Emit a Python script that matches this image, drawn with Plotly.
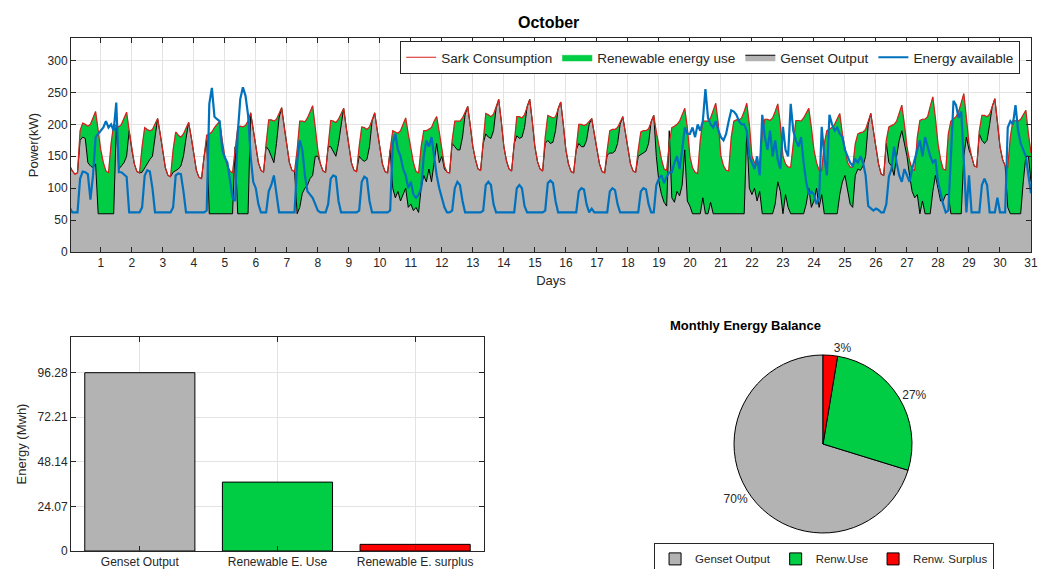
import numpy as np
import plotly.graph_objects as go

# 2-hourly samples over October, x in days
hours = np.arange(0, 31 * 24 + 1, 2)
days = hours / 24

# Sark consumption (kW), one row per day: 0h,2h,...,22h
consumption_kw = [
    135, 127, 122, 124, 190, 202, 200, 197, 200, 210, 220, 190,
    160, 140, 127, 124, 170, 200, 198, 196, 200, 210, 219, 190,
    160, 138, 126, 124, 165, 195, 192, 190, 192, 200, 209, 185,
    155, 132, 120, 118, 160, 188, 183, 180, 185, 195, 203, 180,
    150, 128, 117, 115, 150, 183, 185, 188, 195, 200, 205, 175,
    150, 135, 127, 124, 165, 195, 197, 196, 198, 205, 218, 190,
    165, 140, 128, 125, 170, 207, 207, 205, 208, 218, 226, 195,
    165, 140, 128, 126, 160, 205, 205, 204, 210, 220, 229, 195,
    160, 138, 127, 125, 170, 206, 205, 203, 208, 218, 225, 195,
    165, 140, 128, 126, 165, 196, 195, 192, 196, 208, 218, 190,
    160, 138, 126, 124, 160, 190, 188, 186, 190, 200, 210, 185,
    160, 140, 126, 124, 165, 190, 190, 192, 195, 205, 212, 188,
    160, 135, 125, 124, 175, 205, 205, 205, 210, 220, 228, 198,
    165, 145, 130, 128, 180, 217, 215, 212, 216, 228, 239, 205,
    165, 143, 130, 127, 175, 212, 212, 210, 215, 228, 239, 205,
    165, 142, 130, 127, 180, 214, 212, 210, 212, 225, 235, 200,
    160, 138, 126, 124, 165, 200, 200, 198, 200, 205, 209, 185,
    160, 138, 126, 124, 160, 190, 192, 192, 195, 203, 212, 188,
    160, 138, 127, 125, 160, 188, 190, 190, 193, 205, 214, 188,
    165, 145, 130, 128, 170, 195, 197, 200, 205, 215, 225, 195,
    150, 132, 125, 123, 175, 205, 205, 205, 210, 220, 233, 200,
    150, 135, 128, 127, 180, 205, 207, 207, 210, 220, 233, 200,
    150, 140, 137, 137, 185, 208, 208, 206, 210, 220, 232, 200,
    150, 138, 133, 133, 175, 206, 206, 205, 210, 218, 225, 195,
    160, 140, 128, 128, 170, 190, 192, 195, 200, 210, 217, 185,
    160, 140, 133, 133, 170, 185, 187, 188, 192, 205, 217, 190,
    160, 138, 122, 120, 175, 196, 198, 200, 205, 218, 230, 200,
    165, 143, 130, 128, 180, 206, 208, 208, 212, 228, 243, 210,
    170, 145, 130, 128, 185, 205, 208, 212, 220, 235, 248, 210,
    170, 150, 135, 133, 190, 214, 214, 212, 216, 228, 240, 205,
    165, 145, 135, 133, 180, 206, 206, 205, 208, 215, 222, 185,
    155,
]

# Genset output (kW)
genset_kw = [
    135, 127, 122, 124, 175, 180, 178, 140, 135, 132, 138, 60,
    60, 60, 60, 60, 60, 60, 195, 130, 135, 140, 150, 190,
    160, 138, 126, 124, 125, 132, 140, 145, 150, 180, 209, 185,
    155, 132, 120, 118, 125, 128, 130, 135, 150, 178, 203, 180,
    150, 128, 117, 115, 150, 175, 60, 60, 60, 60, 60, 60,
    60, 60, 60, 60, 165, 60, 60, 60, 60, 60, 218, 190,
    165, 140, 128, 125, 165, 160, 150, 140, 170, 210, 226, 195,
    165, 140, 128, 126, 60, 70, 92, 100, 105, 115, 120, 150,
    150, 138, 127, 125, 165, 165, 158, 150, 170, 200, 225, 195,
    165, 140, 128, 126, 150, 145, 142, 145, 165, 205, 218, 190,
    160, 138, 126, 124, 160, 100, 85, 95, 80, 90, 100, 70,
    75, 65, 70, 62, 100, 120, 110, 130, 110, 140, 170, 140,
    150, 130, 125, 124, 170, 165, 160, 160, 180, 215, 228, 198,
    165, 145, 130, 128, 170, 185, 180, 178, 190, 225, 239, 205,
    165, 143, 130, 127, 170, 182, 178, 180, 195, 228, 239, 205,
    165, 142, 130, 127, 170, 175, 170, 172, 190, 225, 235, 200,
    160, 138, 126, 124, 160, 170, 165, 165, 175, 200, 209, 185,
    160, 138, 126, 124, 152, 155, 155, 158, 170, 200, 212, 188,
    160, 138, 127, 125, 150, 153, 155, 158, 170, 205, 214, 150,
    110, 90, 78, 72, 190, 85, 78, 95, 88, 105, 160, 80,
    72, 60, 60, 60, 60, 85, 60, 60, 78, 60, 60, 60,
    60, 60, 60, 60, 60, 60, 60, 60, 60, 60, 190, 100,
    90, 100, 80, 95, 60, 60, 60, 60, 60, 75, 110, 95,
    60, 90, 70, 60, 60, 60, 60, 60, 60, 75, 100, 70,
    80, 100, 70, 90, 60, 60, 60, 60, 60, 60, 90, 110,
    120, 100, 75, 70, 120, 130, 128, 135, 150, 200, 217, 190,
    160, 138, 122, 120, 170, 140, 135, 120, 150, 175, 190, 170,
    150, 120, 95, 85, 90, 60, 80, 60, 60, 60, 95, 120,
    100, 80, 80, 90, 90, 60, 60, 60, 60, 60, 150, 180,
    160, 150, 135, 133, 185, 175, 170, 175, 200, 228, 240, 205,
    165, 145, 135, 70, 60, 60, 60, 60, 60, 110, 150, 150,
    110,
]

# Energy available (kW)
available_kw = [
    70, 62, 62, 62, 115, 126, 125, 122, 82, 120, 180, 185,
    190, 195, 205, 195, 200, 190, 234, 125, 125, 122, 118, 62,
    62, 62, 62, 62, 70, 120, 128, 126, 100, 62, 62, 62,
    62, 62, 62, 62, 70, 120, 123, 122, 95, 62, 62, 62,
    62, 62, 62, 62, 62, 65, 232, 257, 212, 208, 205, 160,
    148, 140, 110, 85, 80, 185, 240, 258, 245, 215, 150, 110,
    100, 75, 62, 62, 62, 95, 105, 120, 90, 62, 62, 62,
    62, 62, 62, 62, 140, 175, 160, 120, 95, 90, 85, 75,
    65, 62, 62, 62, 75, 115, 120, 118, 80, 62, 62, 62,
    62, 62, 62, 62, 65, 110, 118, 115, 80, 62, 62, 62,
    62, 62, 62, 62, 65, 170, 185, 160, 150, 130, 120, 100,
    110, 90, 85, 90, 100, 150, 175, 165, 180, 150, 120, 100,
    85, 70, 62, 62, 65, 100, 110, 105, 80, 62, 62, 62,
    62, 62, 62, 62, 65, 105, 110, 105, 75, 62, 62, 62,
    62, 62, 62, 62, 62, 100, 105, 100, 72, 62, 62, 62,
    62, 62, 62, 62, 65, 108, 112, 108, 80, 62, 62, 62,
    62, 62, 62, 62, 62, 95, 100, 98, 75, 62, 68, 62,
    62, 62, 62, 62, 62, 95, 100, 97, 75, 62, 62, 62,
    62, 62, 62, 62, 62, 95, 100, 98, 75, 62, 62, 105,
    115, 120, 108, 118, 125, 125, 140, 150, 130, 160, 195, 185,
    185, 195, 180, 200, 190, 205, 255, 210, 200, 195, 205, 190,
    180, 175, 185, 205, 222, 220, 215, 205, 200, 200, 190, 150,
    140, 130, 150, 120, 215, 180, 160, 190, 150, 175, 145, 130,
    196, 160, 150, 232, 190, 175, 165, 180, 140, 110, 90, 95,
    90, 75, 85, 196, 150, 120, 215, 200, 190, 195, 185, 180,
    160, 150, 140, 135, 145, 140, 150, 140, 120, 72, 68, 65,
    68, 66, 62, 62, 75, 118, 130, 165, 140, 120, 110, 130,
    120, 110, 130, 145, 160, 175, 150, 180, 165, 150, 140, 145,
    110, 90, 75, 62, 65, 150, 237, 230, 210, 220, 150, 62,
    120, 62, 62, 62, 62, 105, 115, 105, 62, 62, 62, 85,
    62, 62, 62, 195, 205, 200, 230, 190, 170, 160, 150, 120,
    92,
]

day_ticks = list(range(1, 32))

# monthly totals (MWh)
bar_labels = ["Genset Output", "Renewable E. Use", "Renewable E. surplus"]
bar_mwh = [96.28, 37.2, 3.6]
pie_labels = ["Genset Output", "Renw.Use", "Renw. Surplus"]

GRAY = "#b3b3b3"
GREEN = "#00cc44"
RED = "#ff0000"
BLUE = "#0072bd"
AX = "#262626"
GRID = "#e3e3e3"
FONT = "Liberation Sans, Arial, sans-serif"

fig = go.Figure()

# --- top: daily power profile ---
fig.add_trace(go.Scatter(
    x=days, y=genset_kw, name="Genset Output", mode="lines",
    fill="tozeroy", fillcolor=GRAY, line=dict(color="black", width=1),
    legendrank=3,
))
fig.add_trace(go.Scatter(
    x=days, y=consumption_kw, name="Renewable energy use", mode="lines",
    fill="tonexty", fillcolor=GREEN, line=dict(color=GREEN, width=0.5),
    legendrank=2,
))
fig.add_trace(go.Scatter(
    x=days, y=consumption_kw, name="Sark Consumption", mode="lines",
    line=dict(color="#d81e1e", width=1.2), legendrank=1,
))
fig.add_trace(go.Scatter(
    x=days, y=available_kw, name="Energy available", mode="lines",
    line=dict(color=BLUE, width=2.2), legendrank=4,
))

# --- bottom left: monthly energy bars ---
fig.add_trace(go.Bar(
    x=bar_labels, y=bar_mwh, width=0.8, showlegend=False,
    marker=dict(color=[GRAY, GREEN, RED], line=dict(color="black", width=1)),
    xaxis="x2", yaxis="y2",
))

# --- bottom right: pie, genset slice ends at 12 o'clock going counter-clockwise ---
pie_rotation = 360 * (sum(bar_mwh) - bar_mwh[0]) / sum(bar_mwh)
fig.add_trace(go.Pie(
    labels=pie_labels, values=bar_mwh, sort=False,
    direction="counterclockwise", rotation=pie_rotation,
    marker=dict(colors=[GRAY, GREEN, RED], line=dict(color="black", width=1)),
    textposition="outside", texttemplate="%{percent:.0%}",
    textfont=dict(size=12, color=AX),
    domain=dict(x=[0.7051, 0.8761], y=[0.0633, 0.3761]),
    legend="legend2",
))

bar_max = max(bar_mwh)
bar_ticks = [bar_max * i / 4 for i in range(5)]
bar_text = ["0"] + [f"{v:.2f}" for v in bar_ticks[1:]]

axis_common = dict(
    showline=True, linecolor=AX, linewidth=1, mirror="ticks",
    ticks="inside", ticklen=5, tickcolor=AX, showgrid=True,
    gridcolor=GRID, zeroline=False, tickfont=dict(size=12, color=AX),
)

fig.update_layout(
    template="none",
    width=1041, height=569,
    # the pie legend hangs off the bottom edge, as in the original; don't let it push margins
    margin=dict(l=0, r=0, t=0, b=0, autoexpand=False),
    paper_bgcolor="white", plot_bgcolor="white",
    font=dict(family=FONT, color=AX, size=12),
    xaxis=dict(
        axis_common, domain=[0.0682, 0.9904], range=[0.04, 31],
        tickvals=day_ticks, title=dict(text="Days", font=dict(size=13), standoff=6),
    ),
    yaxis=dict(
        axis_common, domain=[0.557, 0.933], range=[0, 335],
        tickvals=[0, 50, 100, 150, 200, 250, 300],
        title=dict(text="Power(kW)", font=dict(size=13), standoff=6),
    ),
    xaxis2=dict(
        axis_common, domain=[0.0682, 0.4649], range=[-0.5, 2.5],
        anchor="y2",
    ),
    yaxis2=dict(
        axis_common, domain=[0.0316, 0.4077], range=[0, bar_max * 1.2],
        tickvals=bar_ticks, ticktext=bar_text, anchor="x2",
        title=dict(text="Energy (Mwh)", font=dict(size=13), standoff=8),
    ),
    legend=dict(
        orientation="h", x=0.98, xanchor="right", y=0.928, yanchor="top",
        bgcolor="white", bordercolor=AX, borderwidth=1,
        font=dict(size=13.5, color=AX), traceorder="normal",
    ),
    legend2=dict(
        orientation="h", x=0.7916, xanchor="center", y=0.045, yanchor="top",
        bgcolor="white", bordercolor=AX, borderwidth=1,
        font=dict(size=11.5, color=AX),
    ),
    annotations=[
        dict(text="<b>October</b>", x=0.527, y=0.9613, xref="paper", yref="paper",
             yanchor="middle", showarrow=False, font=dict(size=16, color="black")),
        dict(text="<b>Monthly Energy Balance</b>", x=0.7906, y=0.4288,
             xref="paper", yref="paper", yanchor="middle", showarrow=False,
             font=dict(size=13, color="black")),
    ],
)

# no default page margin, so the 1041x569 figure sits exactly in the window
page_fix = (
    "document.documentElement.style.overflow='hidden';"
    "document.body.style.margin='0';"
    "document.body.style.overflow='hidden';"
)
fig.write_html("out.html", config={"displayModeBar": False}, post_script=page_fix)
